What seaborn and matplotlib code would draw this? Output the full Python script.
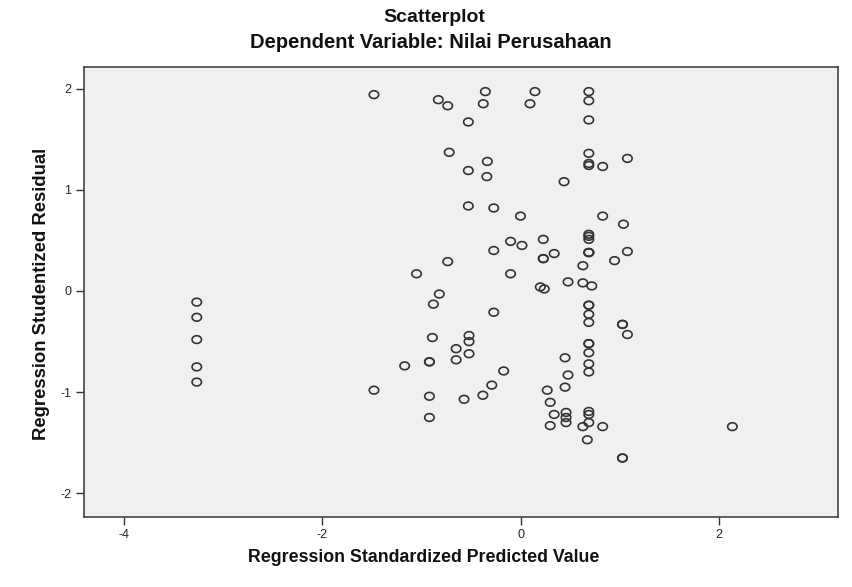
import matplotlib
matplotlib.use("Agg")
import matplotlib.pyplot as plt
from matplotlib.path import Path
import seaborn as sns
import pandas as pd
import numpy as np

# Data
pred_x = [
    -3.27, -3.27, -3.27, -3.27, -3.27,
    -1.48, -1.48,
    -0.83, -0.735, -0.355, -0.376, -0.527, 0.146, 0.096,
    0.69, 0.69, 0.69, 0.69, 0.69, 0.69, 0.69, 0.69, 0.69, 0.69, 0.69, 0.69,
    0.69, 0.69, 0.69, 0.69, 0.69, 0.69, 0.69, 0.69, 0.69, 0.69, 0.69, 0.69,
    0.675, 0.72, 0.63, 0.63, 0.63,
    -0.72, -0.335, -0.527, -0.34, 0.44, 0.83, 1.08,
    -0.527, -0.27, 0.0, 0.83, 1.04,
    -0.10, 0.015, 0.23, -0.27, 0.23, 0.23, 0.34, 0.95, 1.08, -0.735, -1.05, -0.10,
    -0.82, 0.20, 0.24, 0.48,
    -0.88, -0.27, 1.03, 1.03, 1.08,
    -0.89, -0.52, -0.52, -0.65, -0.52, -0.65, -0.92, -0.92, -1.17,
    0.45, 0.48, -0.17, 0.45, -0.29, -0.38, -0.92, -0.57, 0.27, 0.30, 0.34,
    0.46, 0.46, 0.46, 0.30, 0.83, 1.03, 1.03, -0.92, 2.14,
]
resid_y = [
    -0.11, -0.26, -0.48, -0.75, -0.90,
    1.94, -0.98,
    1.89, 1.83, 1.97, 1.85, 1.67, 1.97, 1.85,
    1.97, 1.88, 1.69, 1.36, 1.26, 1.24, 0.56, 0.54, 0.51, 0.38, 0.38, 0.38,
    -0.14, -0.14, -0.23, -0.31, -0.52, -0.52, -0.61, -0.72, -0.80, -1.19, -1.22, -1.30,
    -1.47, 0.05, 0.08, -1.34, 0.25,
    1.37, 1.28, 1.19, 1.13, 1.08, 1.23, 1.31,
    0.84, 0.82, 0.74, 0.74, 0.66,
    0.49, 0.45, 0.51, 0.40, 0.32, 0.32, 0.37, 0.30, 0.39, 0.29, 0.17, 0.17,
    -0.03, 0.04, 0.02, 0.09,
    -0.13, -0.21, -0.33, -0.33, -0.43,
    -0.46, -0.44, -0.50, -0.57, -0.62, -0.68, -0.70, -0.70, -0.74,
    -0.66, -0.83, -0.79, -0.95, -0.93, -1.03, -1.04, -1.07, -0.98, -1.10, -1.22,
    -1.20, -1.25, -1.30, -1.33, -1.34, -1.65, -1.65, -1.25, -1.34,
]
x_ticks = [-4, -2, 0, 2]
y_ticks = [-2, -1, 0, 1, 2]

title_text = "Scatterplot"
subtitle_text = "Dependent Variable: Nilai Perusahaan"
x_label = "Regression Standardized Predicted Value"
y_label = "Regression Studentized Residual"

df = pd.DataFrame({"pred": pred_x, "resid": resid_y})

sns.set_theme(style="white")
plt.rcParams["font.family"] = ["Liberation Sans", "DejaVu Sans"]

# slightly flattened open-circle marker (as in the SPSS output)
t = np.linspace(0, 2 * np.pi, 49)
ellipse = Path(np.column_stack([np.cos(t), 0.82 * np.sin(t)]), closed=True)

W, H = 853, 587
fig = plt.figure(figsize=(W / 100, H / 100), dpi=100)
fig.patch.set_facecolor("white")
ax = fig.add_axes([84 / W, 1 - 517 / H, (838 - 84) / W, (517 - 67) / H])
ax.set_facecolor("#f0f0f0")

sns.scatterplot(data=df, x="pred", y="resid", ax=ax, marker=ellipse, s=46,
                facecolor="none", edgecolor="#333333", linewidth=1.2, legend=False)

ax.set_xlim(-4.409, 3.207)
ax.set_ylim(-2.233, 2.213)
ax.set_xticks(x_ticks)
ax.set_yticks(y_ticks)
ax.set_xticklabels([str(v) for v in x_ticks])
ax.set_yticklabels([str(v) for v in y_ticks])
ax.tick_params(axis="both", direction="out", length=6, width=1, color="#333333",
               labelsize=9, pad=3, bottom=True, left=True, top=False, right=False)
ax.set_xlabel("")
ax.set_ylabel("")
ax.grid(False)
for sp in ax.spines.values():
    sp.set_color("#444444")
    sp.set_linewidth(1.2)

fig.text(434 / W, 1 - 17 / H, title_text, ha="center", va="center",
         fontsize=14, fontweight="bold", color="#111111")
fig.text(431 / W, 1 - 43 / H, subtitle_text, ha="center", va="center",
         fontsize=14.5, fontweight="bold", color="#111111")
fig.text(424 / W, 1 - 557 / H, x_label, ha="center", va="center",
         fontsize=12.8, fontweight="bold", color="#111111")
fig.text(42 / W, 1 - 294 / H, y_label, ha="center", va="center", rotation=90,
         fontsize=13.3, fontweight="bold", color="#111111")

fig.savefig("out.png", dpi=100, facecolor="white")
